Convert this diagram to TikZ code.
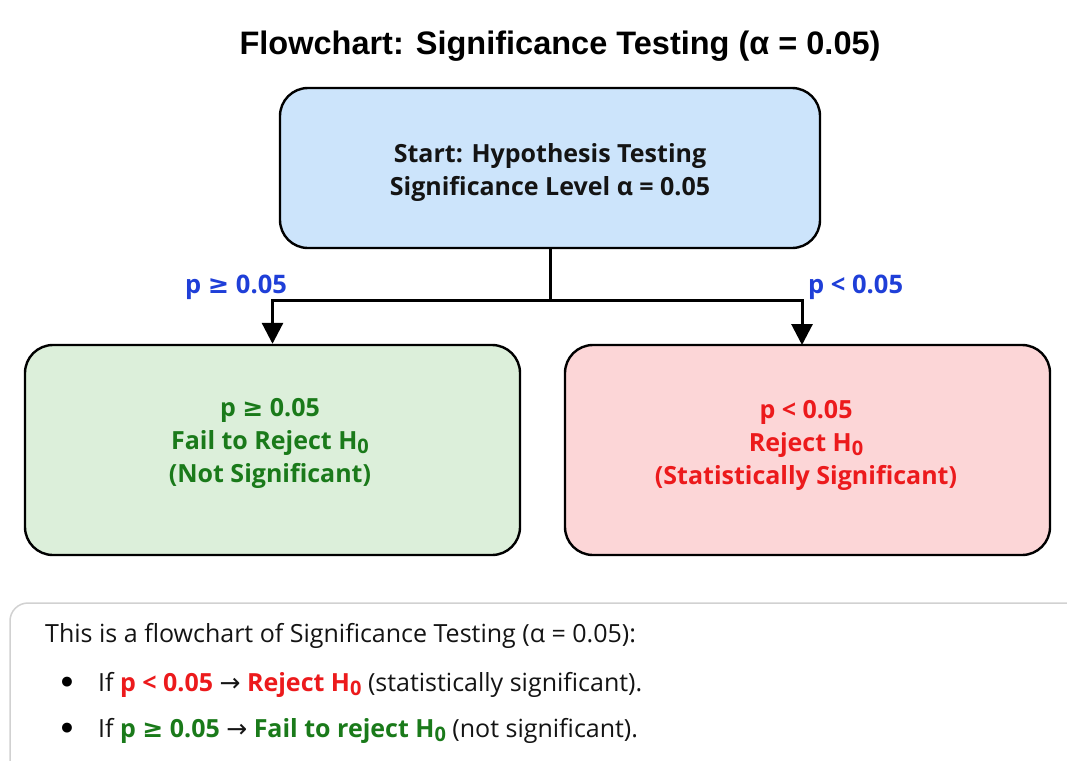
\documentclass[tikz,border=0pt]{standalone}
\usepackage{fontspec}
\setmainfont{Open Sans}
\newfontfamily\titlefont{Liberation Sans}
\newfontfamily\symfont{DejaVu Sans}
\usetikzlibrary{arrows.meta}

\definecolor{startfill}{HTML}{CCE4FB}
\definecolor{failfill}{HTML}{DCEFDA}
\definecolor{rejfill}{HTML}{FCD6D7}
\definecolor{okgreen}{HTML}{1A7A1A}
\definecolor{alertred}{HTML}{EC1A1C}
\definecolor{branchblue}{HTML}{1F3FD8}
\definecolor{textdark}{HTML}{141414}

% symbols taken from DejaVu Sans
\newcommand{\geqs}{{\symfont ≥}}
\newcommand{\rarr}{{\symfont →}}
\newcommand{\subzero}{\raisebox{-0.3ex}{\scalebox{0.8}{0}}}

\tikzset{
  flowbox/.style={draw=black, line width=2.4pt, rounded corners=28pt},
  boxtext/.style={align=center, font=\bfseries\fontsize{25}{33}\selectfont},
  link/.style={draw=black, line width=3pt},
  linkarrow/.style={link, -{Triangle[width=21pt,length=21pt]}},
  branchlabel/.style={text=branchblue, font=\bfseries\fontsize{25.5}{28}\selectfont, anchor=base west, inner sep=0pt},
  notetext/.style={anchor=base west, inner sep=0pt, text=textdark, font=\fontsize{25}{28}\selectfont},
  bulletmark/.style={anchor=base west, inner sep=0pt, text=black, font=\symfont\bfseries\fontsize{28}{28}\selectfont},
}

\begin{document}
\begin{tikzpicture}[x=1pt,y=-1pt]
\useasboundingbox (0,0) rectangle (1067,760);
\fill[white] (0,0) rectangle (1067,760);

% heading
\node[font=\titlefont\bfseries\fontsize{32.5}{36}\selectfont, text=black] (title) at (560,46) {Flowchart: Significance Testing (α = 0.05)};

% boxes
\node[flowbox, fill=startfill, minimum width=540pt, minimum height=160pt] (start) at (550,168) {};
\node[flowbox, fill=failfill, minimum width=495pt, minimum height=210pt] (fail) at (272.5,450) {};
\node[flowbox, fill=rejfill, minimum width=485pt, minimum height=210pt] (reject) at (807.5,450) {};

% box captions
\node[boxtext, text=textdark] (starttxt) at (550,173)
  {Start: Hypothesis Testing\\Significance Level α = 0.05};
\node[boxtext, text=okgreen] (failtxt) at (270,443)
  {p \geqs{} 0.05\\Fail to Reject H\subzero\\(Not Significant)};
\node[boxtext, text=alertred] (rejtxt) at (806,445)
  {p < 0.05\\Reject H\subzero\\(Statistically Significant)};

% branching connectors
\coordinate (split) at (550,300);
\coordinate (rejin) at (802,345);
\draw[link] (start.south) -- (split);
\draw[linkarrow] (split) -| (fail.north);
\draw[linkarrow] (split) -| (rejin);

\node[branchlabel] (lblfail) at (185,293) {p \geqs{} 0.05};
\node[branchlabel] (lblrej) at (808,293) {p < 0.05};

% explanatory note
\draw[draw=black!18, line width=1.5pt, fill=white, rounded corners=18pt] (10,603) rectangle (1090,790);
\node[notetext] (note) at (45,642) {This is a flowchart of Significance Testing (α = 0.05):};
\node[bulletmark] (b1) at (58,692) {•};
\node[notetext] (l1) at (98,691) {If \textcolor{alertred}{\bfseries p < 0.05} \rarr{} \textcolor{alertred}{\bfseries Reject H\subzero} (statistically significant).};
\node[bulletmark] (b2) at (58,738) {•};
\node[notetext] (l2) at (98,737) {If \textcolor{okgreen}{\bfseries p \geqs{} 0.05} \rarr{} \textcolor{okgreen}{\bfseries Fail to reject H\subzero} (not significant).};
\end{tikzpicture}
\end{document}
